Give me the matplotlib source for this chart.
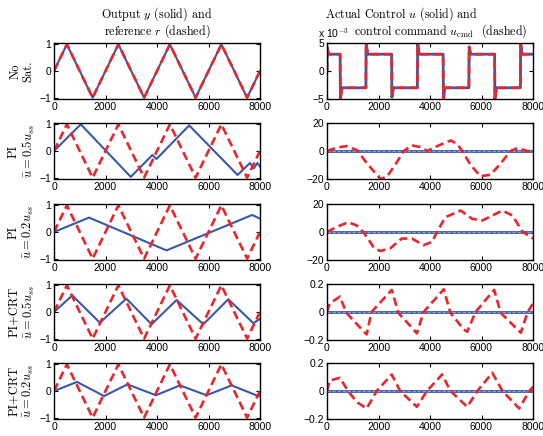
import matplotlib
matplotlib.use("Agg")
import matplotlib.pyplot as plt

plt.rcParams['font.family'] = 'Liberation Sans'
plt.rcParams['mathtext.fontset'] = 'cm'

BLUE = '#3b57a8'
RED = '#e8262c'
LIGHT = '#9fb1e0'

# reference triangle (dashed, left column)
t_ref = [0, 500, 1500, 2500, 3500, 4500, 5500, 6500, 7500, 8000]
r_ref = [0, 1, -1, 1, -1, 1, -1, 1, -1, 0]

# row 1: no saturation
t_y1 = [0, 500, 1500, 2500, 3500, 4500, 5500, 6500, 7500, 8000]
y1 = [0, 1, -1, 1, -1, 1, -1, 1, -1, 0]
t_u1 = [0, 10, 60, 510, 520, 580, 1510, 1520, 1580, 2510, 2520, 2580,
        3510, 3520, 3580, 4510, 4520, 4580, 5510, 5520, 5580, 6510, 6520,
        6580, 7510, 7520, 7580, 8000]
u1 = [0, 4.2, 3, 3, -5, -3, -3, 5, 3, 3, -4.7, -3, -3, 5, 3, 3, -5, -3,
      -3, 4.3, 3, 3, -5, -3, -3, 5, 3, 3]  # x 1e-3

# row 2: PI, 0.5 u_ss
t_y2 = [0, 1040, 2980, 3820, 3980, 5250, 7130, 7610, 7760, 7900, 8000]
y2 = [0, 1, -0.97, -0.15, -0.3, 0.96, -0.9, -0.45, -0.65, -0.45, -0.58]
t_c2 = [0, 400, 780, 1170, 1560, 2075, 2330, 2720, 2980, 3300, 3630, 3890,
        4280, 4800, 5060, 5250, 5580, 5960, 6350, 6740, 7130, 7390, 7780, 8000]
c2 = [0, 2.5, 3.5, 0.5, -9, -20, -18.4, -7.8, 0, 4, 2.8, 0, 3.5, 7.5, 5,
      0, -10, -18, -17, -9, 0, 2, 0, 0]

# row 3: PI, 0.2 u_ss
t_y3 = [0, 1360, 4370, 7700, 8000]
y3 = [0, 0.54, -0.69, 0.64, 0.5]
t_c3 = [0, 365, 820, 1150, 1410, 1800, 2060, 2450, 2900, 3300, 3750, 4080,
        4270, 4600, 5190, 5640, 6030, 6420, 6810, 7200, 7600, 7920, 8000]
c3 = [0, 3.5, 7, 4.7, 0, -10.6, -13.6, -11.8, -4.7, -4.7, -9.4, -7, 0,
      10.6, 15.3, 9.4, 8.2, 11.8, 15.3, 11.8, 0, -3.5, -4.7]

# row 4: PI+CRT, 0.5 u_ss
t_y4 = [0, 710, 1780, 2810, 3790, 4760, 5800, 6770, 7740, 8000]
y4 = [0, 0.62, -0.4, 0.5, -0.46, 0.45, -0.46, 0.48, -0.42, -0.26]
t_c4 = [0, 100, 500, 760, 1410, 1540, 1730, 2515, 2775, 3360, 3490, 3750,
        4535, 4795, 5315, 5445, 5770, 6490, 6750, 7400, 7530, 7790, 8000]
c4 = [0, 0.06, 0.11, -0.007, -0.136, -0.16, 0, 0.158, -0.007, -0.125,
      -0.153, 0, 0.162, -0.007, -0.125, -0.141, 0, 0.158, -0.007, -0.125,
      -0.148, 0, 0.06]

# row 5: PI+CRT, 0.2 u_ss
t_y5 = [0, 895, 1945, 2855, 3955, 4890, 5925, 6900, 7935, 8000]
y5 = [0, 0.34, -0.19, 0.25, -0.16, 0.21, -0.16, 0.21, -0.19, -0.17]
t_c5 = [0, 105, 500, 820, 1150, 1540, 1930, 2515, 2840, 3490, 3880, 4470,
        4795, 5445, 5840, 6420, 6815, 7465, 7860, 8000]
c5 = [0, 0.075, 0.094, 0, -0.078, -0.125, 0, 0.118, 0, -0.113, 0, 0.118,
      0, -0.113, 0, 0.13, 0, -0.125, 0, 0.03]

t_zero = [0, 8000]
u_zero = [0, 0]

row_labels = ['No\nSat.',
              'PI\n$\\bar{u}=0.5u_{ss}$',
              'PI\n$\\bar{u}=0.2u_{ss}$',
              'PI+CRT\n$\\bar{u}=0.5u_{ss}$',
              'PI+CRT\n$\\bar{u}=0.2u_{ss}$']

W, H = 543, 436
fig = plt.figure(figsize=(W / 100, H / 100), dpi=100)

tops = [43, 123, 204, 284, 363]
ah = 56

def px_axes(x0, top):
    return fig.add_axes([x0 / W, 1 - (top + ah) / H, 206 / W, ah / H])

def style(ax):
    ax.set_xlim(0, 8000)
    ax.set_xticks([0, 2000, 4000, 6000, 8000])
    ax.tick_params(direction='in', length=3, width=0.8, labelsize=7.5,
                   top=True, right=True, pad=2)
    for s in ax.spines.values():
        s.set_linewidth(1.0)

dash = dict(color=RED, lw=1.9, ls=(0, (3.2, 1.7)))
solid = dict(color=BLUE, lw=1.5)

lefts = [(t_y1, y1), (t_y2, y2), (t_y3, y3), (t_y4, y4), (t_y5, y5)]
rights = [(t_c2, c2, [-20, 0, 20], ['\u221220', '0', '20'], (-20, 20)),
          (t_c3, c3, [-20, 0, 20], ['\u221220', '0', '20'], (-20, 20)),
          (t_c4, c4, [-0.2, 0, 0.2], ['\u22120.2', '0', '0.2'], (-0.2, 0.2)),
          (t_c5, c5, [-0.2, 0, 0.2], ['\u22120.2', '0', '0.2'], (-0.2, 0.2))]

for i in range(5):
    axl = px_axes(54, tops[i])
    ty, yy = lefts[i]
    axl.plot(ty, yy, **solid)
    axl.plot(t_ref, r_ref, **dash)
    axl.set_ylim(-1.05, 1.05)
    axl.set_yticks([-1, 0, 1])
    axl.set_yticklabels(['\u22121', '0', '1'])
    style(axl)
    fig.text(22 / W, 1 - (tops[i] + ah / 2) / H, row_labels[i], rotation=90,
             ha='center', va='center', multialignment='center',
             fontsize=9, fontname='cmr10', linespacing=1.1)

    axr = px_axes(327, tops[i])
    if i == 0:
        u1s = [v * 1e-3 for v in u1]
        axr.plot(t_u1, u1s, color=BLUE, lw=2.0)
        axr.plot(t_u1, u1s, **dash)
        axr.set_ylim(-5e-3, 5e-3)
        axr.set_yticks([-5e-3, 0, 5e-3])
        axr.set_yticklabels(['\u22125', '0', '5'])
    else:
        tc, cc, yt, yl, lim = rights[i - 1]
        axr.plot(t_zero, u_zero, color=BLUE, lw=2.0)
        axr.plot(t_zero, u_zero, color=LIGHT, lw=0.6, ls=(0, (4, 2)))
        axr.plot(tc, cc, **dash)
        axr.set_ylim(*lim)
        axr.set_yticks(yt)
        axr.set_yticklabels(yl)
    style(axr)

# titles
fig.text(157 / W, 1 - 14 / H, 'Output $y$ (solid) and', ha='center',
         va='center', fontsize=8.7, fontname='cmr10')
fig.text(157 / W, 1 - 31 / H, 'reference $r$ (dashed)', ha='center',
         va='center', fontsize=8.7, fontname='cmr10')
fig.text(325 / W, 1 - 14 / H, 'Actual Control $u$ (solid) and', ha='left',
         va='center', fontsize=8.7, fontname='cmr10')
fig.text(354 / W, 1 - 31 / H, 'control command $u_{\\rm cmd}$  (dashed)',
         ha='left', va='center', fontsize=8.7, fontname='cmr10')
fig.text(318 / W, 1 - 33 / H, 'x 10$^{\\mathsf{-3}}$', ha='left',
         va='center', fontsize=7.5)

fig.savefig('out.png', dpi=100)
